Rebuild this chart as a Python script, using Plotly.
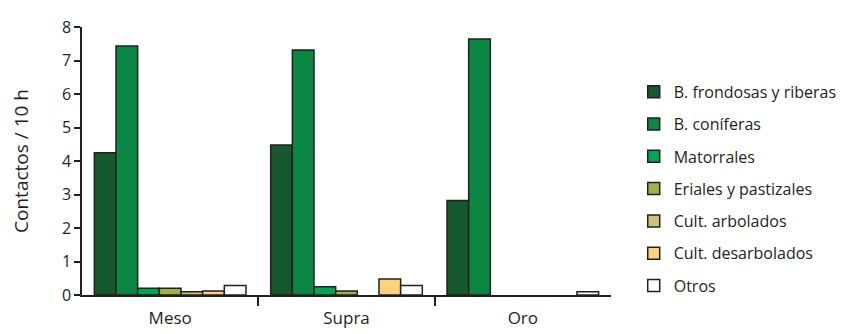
import plotly.graph_objects as go

categories = ["Meso", "Supra", "Oro"]
series_names = ["B. frondosas y riberas", "B. coníferas", "Matorrales",
                "Eriales y pastizales", "Cult. arbolados", "Cult. desarbolados", "Otros"]
frondosas = [4.25, 4.48, 2.82]
coniferas = [7.43, 7.31, 7.64]
matorrales = [0.20, 0.25, None]
eriales = [0.20, 0.12, None]
arbolados = [0.10, None, None]
desarbolados = [0.12, 0.48, None]
otros = [0.28, 0.28, 0.10]
series_values = [frondosas, coniferas, matorrales, eriales, arbolados, desarbolados, otros]
colors = ["#17592f", "#0a8843", "#00a651", "#9bb24b", "#cfc07c", "#fcd27a", "#ffffff"]
boundary_ticks = [0.5, 1.5]

ink = "#231f20"
fam = "'Open Sans', sans-serif"
fig = go.Figure()
for i, (name, vals, col) in enumerate(zip(series_names, series_values, colors)):
    fig.add_trace(go.Bar(
        x=categories, y=vals, name=name, legendgroup=f"g{i}",
        marker=dict(color=col, line=dict(color=ink, width=1.5)),
    ))
fig.add_trace(go.Scatter(x=boundary_ticks, y=[None, None], xaxis="x2",
                         showlegend=False, hoverinfo="skip"))

fig.update_layout(
    width=849, height=334,
    margin=dict(l=74, r=246, t=19, b=47, autoexpand=False),
    plot_bgcolor="white", paper_bgcolor="white",
    font=dict(family=fam, size=17, color=ink),
    barmode="group", bargap=0.14, bargroupgap=0,
    showlegend=True,
    legend=dict(
        xref="container", yref="container",
        x=0.737, y=0.80, xanchor="left", yanchor="top",
        traceorder="grouped", tracegroupgap=8.5, maxheight=330,
        font=dict(family=fam, size=16, color=ink),
        bgcolor="rgba(0,0,0,0)",
    ),
    xaxis=dict(
        range=[-0.5, 2.5], showline=True, linecolor=ink, linewidth=1.5,
        ticks="", showgrid=False, zeroline=False, automargin=False,
        tickfont=dict(family=fam, size=17, color=ink), ticklabelstandoff=7,
    ),
    xaxis2=dict(
        overlaying="x", side="bottom", range=[-0.5, 2.5],
        tickvals=boundary_ticks, showticklabels=False,
        ticks="outside", ticklen=10, tickcolor=ink, tickwidth=1.5,
        showline=False, showgrid=False, zeroline=False, automargin=False,
    ),
    yaxis=dict(
        range=[0, 8], dtick=1, showline=True, linecolor=ink, linewidth=1.5,
        ticks="outside", ticklen=6, tickcolor=ink, tickwidth=1.5,
        showgrid=False, zeroline=False, automargin=False,
        tickfont=dict(family=fam, size=16, color=ink),
        title=dict(text="Contactos / 10 h", standoff=34,
                   font=dict(family=fam, size=19, color=ink)),
    ),
)
fig.write_html("out.html")
